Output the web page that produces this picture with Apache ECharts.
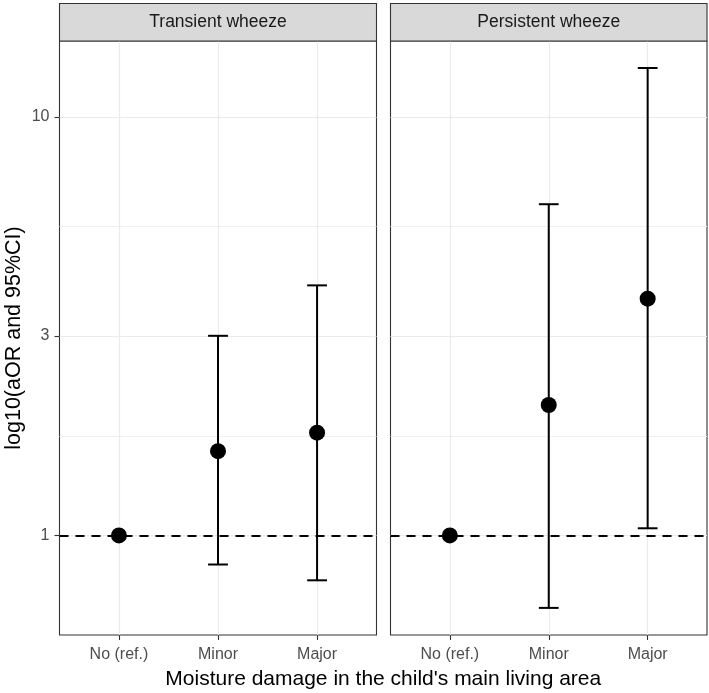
<!DOCTYPE html>
<html><head><meta charset="utf-8">
<script src="https://cdn.jsdelivr.net/npm/echarts@6/dist/echarts.min.js"></script>
<style>html,body{margin:0;padding:0;background:#fff}#c{width:709px;height:693px}</style>
</head><body><div id="c"></div>
<script>
// ---- data ----
const panels = ['Transient wheeze', 'Persistent wheeze'];
const categories = ['No (ref.)', 'Minor', 'Major'];
const transientOR   = [1, 1.59, 1.76];
const transientLow  = [null, 0.852, 0.781];
const transientHigh = [null, 3.0, 3.96];
const persistentOR   = [1, 2.05, 3.68];
const persistentLow  = [null, 0.671, 1.04];
const persistentHigh = [null, 6.19, 13.1];
const yTicks = [1, 3, 10];
const yMinorBreaks = [1.73, 5.48];
const refValue = 1;
const xTitle = "Moisture damage in the child's main living area";
const yTitle = 'log10(aOR and 95%CI)';

// ---- layout ----
const FONT = 'Liberation Sans, Arial, sans-serif';
const grids = [
  {left: 59.5, top: 41, width: 317, height: 594},
  {left: 390.5, top: 41, width: 316.5, height: 594}
];
const yMin = 0.578, yMax = 15.2;
const xVals = categories.map((c, i) => i + 1);

const panelData = [
  {or: transientOR, lo: transientLow, hi: transientHigh},
  {or: persistentOR, lo: persistentLow, hi: persistentHigh}
];

const xAxes = [], yAxes = [], series = [], graphics = [];
grids.forEach((g, i) => {
  xAxes.push({
    type: 'value', gridIndex: i, min: 0.4, max: 3.6,
    axisLine: {show: false},
    axisTick: {show: true, customValues: xVals, length: 5, lineStyle: {color: '#333', width: 1.1}},
    axisLabel: {show: true, customValues: xVals, formatter: v => categories[Math.round(v) - 1],
      fontSize: 16, color: '#4D4D4D', fontFamily: FONT, margin: 12},
    splitLine: {show: true, lineStyle: {color: '#EBEBEB', width: 1.2}}
  });
  yAxes.push({
    type: 'log', logBase: 10, gridIndex: i, min: yMin, max: yMax,
    axisLine: {show: false},
    axisTick: {show: i === 0, customValues: yTicks, length: 5, lineStyle: {color: '#333', width: 1.1}},
    axisLabel: {show: i === 0, customValues: yTicks, formatter: v => String(v),
      fontSize: 16, color: '#4D4D4D', fontFamily: FONT, margin: 10},
    splitLine: {show: true, lineStyle: {color: '#EBEBEB', width: 1.2}},
    name: i === 0 ? yTitle : '', nameLocation: 'middle', nameGap: 34, nameRotate: 90,
    nameTextStyle: {fontSize: 21.5, color: '#000', fontFamily: FONT}
  });
  yAxes.push({
    type: 'log', logBase: 10, gridIndex: i, min: yMin, max: yMax,
    axisLine: {show: false},
    axisTick: {show: false, customValues: yMinorBreaks},
    axisLabel: {show: false},
    splitLine: {show: true, lineStyle: {color: '#F0F0F0', width: 1}}
  });
  const d = panelData[i];
  series.push({
    type: 'custom', xAxisIndex: i, yAxisIndex: i * 2, z: 3,
    data: xVals.map((x, k) => [x, d.lo[k], d.hi[k]]).filter(r => r[1] != null),
    renderItem: (params, api) => {
      const x = api.value(0), lo = api.value(1), hi = api.value(2);
      const pLo = api.coord([x, lo]), pHi = api.coord([x, hi]);
      const l = api.coord([x - 0.1, lo])[0], r = api.coord([x + 0.1, lo])[0];
      const st = {stroke: '#000', lineWidth: 2};
      return {type: 'group', children: [
        {type: 'line', shape: {x1: pLo[0], y1: pLo[1], x2: pHi[0], y2: pHi[1]}, style: st},
        {type: 'line', shape: {x1: l, y1: pLo[1], x2: r, y2: pLo[1]}, style: st},
        {type: 'line', shape: {x1: l, y1: pHi[1], x2: r, y2: pHi[1]}, style: st}
      ]};
    }
  });
  series.push({
    type: 'scatter', xAxisIndex: i, yAxisIndex: i * 2, z: 4,
    symbol: 'circle', symbolSize: 16, itemStyle: {color: '#000', opacity: 1},
    data: xVals.map((x, k) => [x, d.or[k]]),
    markLine: {
      silent: true, symbol: 'none', label: {show: false}, z: 2,
      lineStyle: {color: '#000', width: 2, type: [9, 7], opacity: 1},
      data: [{yAxis: refValue}]
    }
  });
  graphics.push({
    type: 'rect', shape: {x: g.left, y: 3.5, width: g.width, height: 37.5},
    style: {fill: '#D9D9D9', stroke: '#333', lineWidth: 1.1}, z: 10
  });
  graphics.push({
    type: 'text', x: g.left + g.width / 2, y: 22.5, z: 11,
    style: {text: panels[i], fontSize: 17.5, fill: '#1A1A1A', fontFamily: FONT,
      textAlign: 'center', textVerticalAlign: 'middle', verticalAlign: 'middle'}
  });
});
graphics.push({
  type: 'text', x: (grids[0].left + grids[1].left + grids[1].width) / 2, y: 679,
  style: {text: xTitle, fontSize: 21, fill: '#000', fontFamily: FONT,
    textAlign: 'center', textVerticalAlign: 'middle', verticalAlign: 'middle'}
});

const chart = echarts.init(document.getElementById('c'), null, {renderer: 'canvas'});
chart.setOption({
  animation: false,
  backgroundColor: '#fff',
  textStyle: {fontFamily: FONT},
  grid: grids.map(g => Object.assign({show: true, borderColor: '#333', borderWidth: 1.1, backgroundColor: 'transparent', containLabel: false}, g)),
  xAxis: xAxes,
  yAxis: yAxes,
  series: series,
  graphic: graphics
});
</script></body></html>
